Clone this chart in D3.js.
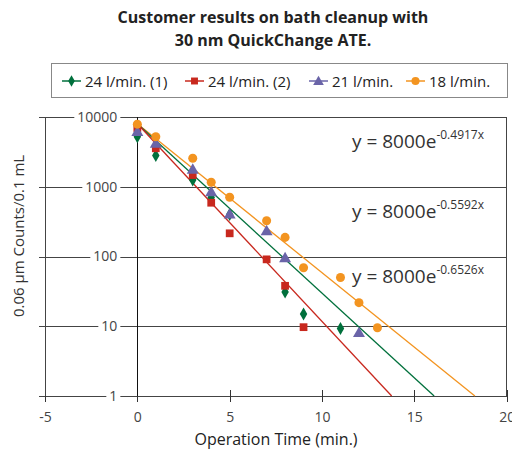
<!DOCTYPE html>
<html>
<head>
<meta charset="utf-8">
<script src="https://cdn.jsdelivr.net/npm/d3@7"></script>
<style>
  body { margin: 0; background: #fff; }
  svg { display: block; font-family: "Open Sans", "Noto Sans", sans-serif; }
</style>
</head>
<body>
<svg id="chart" width="512" height="451"></svg>
<script>
// series
var seriesNames = ["24 l/min. (1)", "24 l/min. (2)", "21 l/min.", "18 l/min."];
var greenX = [0, 1, 3, 4, 5, 8, 9, 11];
var greenY = [5200, 2800, 1250, 700, 400, 31, 15, 9.3];
var redX = [0, 1, 3, 4, 5, 7, 8, 9];
var redY = [6950, 3560, 1470, 590, 215, 91, 38, 9.7];
var purpleX = [0, 1, 3, 4, 5, 7, 8, 12];
var purpleY = [6200, 4200, 1780, 850, 406, 234, 96, 8.1];
var orangeX = [0, 1, 3, 4, 5, 7, 8, 9, 11, 12, 13];
var orangeY = [7900, 5200, 2560, 1160, 706, 326, 188, 69, 50, 21.8, 9.5];

// fitted trendlines y = a * e^(-k x)
var trendA = 8000;
var trendK = [0.4917, 0.5592, 0.6526];     // orange, green, red
var trendSeries = [3, 0, 1];

var xTicks = [-5, 0, 5, 10, 15, 20];
var yTicks = [1, 10, 100, 1000, 10000];

var colors = ["#00703c", "#c8281e", "#6a64a8", "#f39420"];
var shapes = [d3.symbolDiamond, d3.symbolSquare, d3.symbolTriangle, d3.symbolCircle];
var sizes = [48, 60, 62, 64];

var svg = d3.select("#chart");

var x = d3.scaleLinear().domain([-5, 20]).range([45, 506.7]);
var y = d3.scaleLog().domain([1, 10000]).range([396, 117]);

// title
svg.append("text")
    .attr("x", 273).attr("y", 23)
    .attr("text-anchor", "middle")
    .attr("font-size", 16).attr("font-weight", 700).attr("fill", "#222")
    .selectAll("tspan")
    .data(["Customer results on bath cleanup with", "30 nm QuickChange ATE."])
    .enter().append("tspan")
    .attr("x", 273)
    .attr("dy", function(d, i) { return i ? 23 : 0; })
    .text(function(d) { return d; });

// legend
var legend = svg.append("g");
legend.append("rect")
    .attr("x", 51.5).attr("y", 63.5).attr("width", 456).attr("height", 34)
    .attr("fill", "#fff").attr("stroke", "#888");
var legendX = [62, 185, 309, 406];
seriesNames.forEach(function(name, i) {
    var g = legend.append("g").attr("transform", "translate(" + legendX[i] + ",81)");
    g.append("line").attr("x1", 0).attr("x2", 19)
        .attr("stroke", colors[i]).attr("stroke-width", 1.5);
    g.append("path")
        .attr("transform", "translate(9.5," + (i == 2 ? 1 : 0) + ")")
        .attr("d", d3.symbol().type(shapes[i]).size(sizes[i] * 0.8)())
        .attr("fill", colors[i]);
    g.append("text").attr("x", 23).attr("y", 6)
        .attr("font-size", 15).attr("fill", "#222")
        .text(name);
});

// horizontal gridlines
var grid = svg.append("g")
    .attr("transform", "translate(39,0)")
    .call(d3.axisLeft(y).tickValues(yTicks).tickSize(-(506.7 - 39)).tickFormat(""));
grid.select(".domain").remove();
grid.selectAll("line").attr("stroke", "#444").attr("shape-rendering", "crispEdges");

// x axis with ticks crossing the bottom line
var xAxis = svg.append("g")
    .attr("transform", "translate(0,396)")
    .call(d3.axisBottom(x).tickValues(xTicks).tickSize(6).tickPadding(10)
        .tickFormat(function(d) { return String(d); }));
xAxis.select(".domain").remove();
xAxis.selectAll("line").attr("y1", -6).attr("y2", 6)
    .attr("stroke", "#333").attr("shape-rendering", "crispEdges");
xAxis.selectAll("text").attr("font-size", 14).attr("fill", "#444")
    .attr("font-family", "'Open Sans', sans-serif");

// vertical frame lines and the axis at x = 0
[-5, 0, 20].forEach(function(v) {
    svg.append("line")
        .attr("x1", x(v)).attr("x2", x(v))
        .attr("y1", y(10000)).attr("y2", 396)
        .attr("stroke", v === 0 ? "#111" : "#444")
        .attr("shape-rendering", "crispEdges");
});

// y tick labels, sitting next to the x = 0 axis on a white patch
var yAxis = svg.append("g")
    .attr("transform", "translate(" + x(0) + ",0)")
    .call(d3.axisLeft(y).tickValues(yTicks).tickSize(0).tickPadding(20)
        .tickFormat(d3.format("d")));
yAxis.select(".domain").remove();
yAxis.selectAll("text").attr("font-size", 14).attr("fill", "#444")
    .attr("font-family", "'Open Sans', sans-serif");
yAxis.selectAll(".tick").each(function() {
    var t = d3.select(this).select("text");
    var b = t.node().getBBox();
    d3.select(this).insert("rect", "text")
        .attr("x", b.x - 3).attr("y", -3)
        .attr("width", b.width + 6).attr("height", 6)
        .attr("fill", "#fff");
});

// axis titles
svg.append("text")
    .attr("x", 276).attr("y", 445)
    .attr("text-anchor", "middle").attr("font-size", 16).attr("fill", "#222")
    .text("Operation Time (min.)");
svg.append("text")
    .attr("transform", "translate(24,236) rotate(-90)")
    .attr("text-anchor", "middle").attr("font-size", 15).attr("fill", "#333")
    .text("0.06 µm Counts/0.1 mL");

// trendlines
var line = d3.line()
    .x(function(d) { return x(d[0]); })
    .y(function(d) { return y(d[1]); });
trendK.forEach(function(k, i) {
    var xEnd = Math.log(trendA) / k;
    svg.append("path")
        .attr("d", line([[0, trendA], [xEnd, 1]]))
        .attr("fill", "none")
        .attr("stroke", colors[trendSeries[i]])
        .attr("stroke-width", 1.3);
});

// markers
var allX = [greenX, redX, purpleX, orangeX];
var allY = [greenY, redY, purpleY, orangeY];
allX.forEach(function(xs, s) {
    var pts = xs.map(function(v, i) { return [v, allY[s][i]]; });
    svg.append("g").selectAll("path")
        .data(pts)
        .enter().append("path")
        .attr("transform", function(d) {
            return "translate(" + x(d[0]) + "," + (y(d[1]) + (s == 2 ? 1 : 0)) + ")";
        })
        .attr("d", d3.symbol().type(shapes[s]).size(sizes[s]))
        .attr("fill", colors[s]);
});

// equation labels
var eqY = [148, 218, 283];
trendK.forEach(function(k, i) {
    var t = svg.append("text")
        .attr("x", 352).attr("y", eqY[i])
        .attr("fill", "#333").attr("font-size", 19);
    t.append("tspan").text("y = " + trendA + "e");
    t.append("tspan").attr("dy", -9).attr("font-size", 12)
        .text("-" + k.toFixed(4) + "x");
});
</script>
</body>
</html>
